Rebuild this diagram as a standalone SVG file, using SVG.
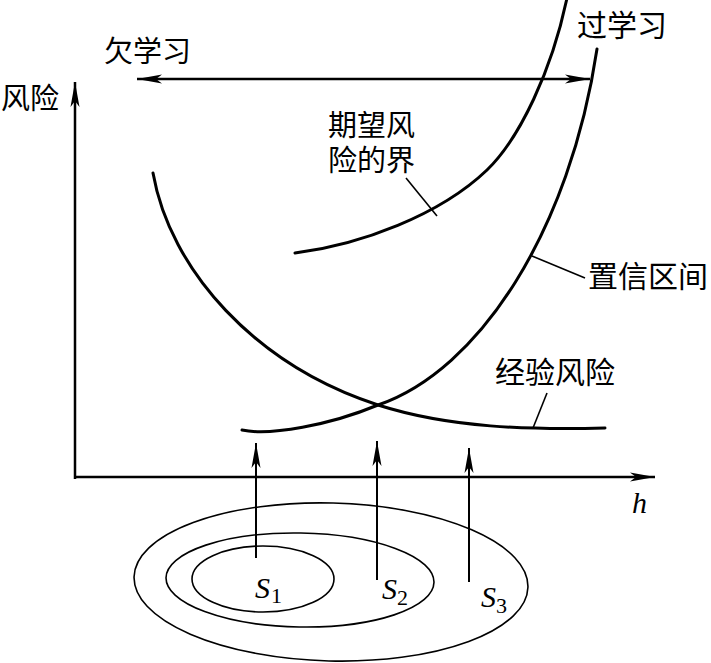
<svg xmlns="http://www.w3.org/2000/svg" width="711" height="663" viewBox="0 0 711 663">
<style>
.cjk{font-family:"Liberation Serif","Noto Sans CJK SC","Noto Sans CJK JP",sans-serif;font-size:30px;fill:#000}
.it{font-family:"Liberation Serif",serif;font-style:italic;fill:#000}
.curve{fill:none;stroke:#000;stroke-width:3;stroke-linecap:round}
.axis{fill:none;stroke:#000;stroke-width:2.5}
.arr{fill:none;stroke:#000;stroke-width:2}
.lead{fill:none;stroke:#000;stroke-width:1.6}
.ell{fill:none;stroke:#000;stroke-width:1.6}
</style>
<defs>
<marker id="ah" markerUnits="userSpaceOnUse" viewBox="-26 -6 28 12" refX="0" refY="0" markerWidth="28" markerHeight="12" orient="auto-start-reverse">
<path d="M0,0 L-25,-4.5 L-19,0 L-25,4.5 Z" fill="#000"/>
</marker>
</defs>
<rect width="711" height="663" fill="#fff"/>
<g id="connectors">
<line id="y-axis" class="axis" x1="75" y1="479" x2="75" y2="82" marker-end="url(#ah)"/>
<line id="x-axis" class="axis" x1="74" y1="477" x2="655" y2="477" marker-end="url(#ah)"/>
<line id="range" class="axis" x1="137" y1="79" x2="590" y2="79" marker-start="url(#ah)" marker-end="url(#ah)"/>
<line class="arr" x1="256" y1="558" x2="256" y2="443" marker-end="url(#ah)"/>
<line class="arr" x1="377" y1="580" x2="377" y2="441" marker-end="url(#ah)"/>
<line class="arr" x1="469" y1="582" x2="469" y2="448" marker-end="url(#ah)"/>
<line class="lead" x1="406" y1="178" x2="437" y2="216"/>
<line class="lead" x1="532" y1="256" x2="585" y2="278"/>
<line class="lead" x1="547" y1="393" x2="533" y2="428"/>
</g>
<g id="empirical-risk">
<path class="curve" d="M153,173 C170,270 255,365 378,405 C450,428 530,430 605,428"/>
<text class="cjk" x="495" y="383">经验风险</text>
</g>
<g id="confidence-interval">
<path class="curve" d="M242,430 C270,436 330,425 378,405 C480,370 570,230 597,49"/>
<text class="cjk" x="588" y="287">置信区间</text>
</g>
<g id="expected-risk-bound">
<path class="curve" d="M295,253 C360,245 440,215 487,170 C520,138 552,70 567,-2"/>
<text class="cjk" x="328" y="136" style="font-size:29px">期望风</text>
<text class="cjk" x="328" y="171" style="font-size:29px">险的界</text>
</g>
<g id="labels">
<text class="cjk" x="1" y="109" style="font-size:29px">风险</text>
<text class="cjk" x="104" y="62" style="font-size:29px">欠学习</text>
<text class="cjk" x="577" y="36">过学习</text>
<text class="it" x="632" y="513" style="font-size:30px">h</text>
</g>
<g id="sets">
<ellipse id="S3-set" class="ell" cx="331" cy="582" rx="197" ry="79" transform="rotate(1.5 331 582)"/>
<ellipse id="S2-set" class="ell" cx="300" cy="580" rx="134" ry="47" transform="rotate(1 300 580)"/>
<ellipse id="S1-set" class="ell" cx="263" cy="579" rx="71" ry="33"/>
<text class="it" x="255" y="598" style="font-size:30px">S<tspan dx="1" dy="5" style="font-size:22px;font-style:normal">1</tspan></text>
<text class="it" x="382" y="599" style="font-size:30px">S<tspan dx="0" dy="6" style="font-size:22px;font-style:normal">2</tspan></text>
<text class="it" x="481" y="607" style="font-size:30px">S<tspan dx="0" dy="6" style="font-size:22px;font-style:normal">3</tspan></text>
</g>
</svg>
